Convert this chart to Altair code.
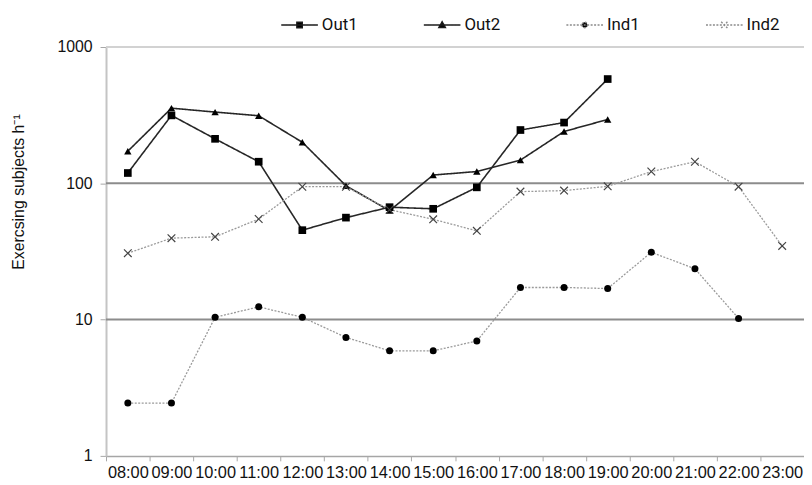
import altair as alt
import pandas as pd

times = ["08:00", "09:00", "10:00", "11:00", "12:00", "13:00", "14:00", "15:00",
         "16:00", "17:00", "18:00", "19:00", "20:00", "21:00", "22:00", "23:00"]
out1 = [119, 315, 212, 144, 45.3, 56, 66.8, 65, 93.4, 246, 279, 582]
out2 = [172, 356, 333, 313, 200, 96, 63, 115, 122, 148, 240, 294]
ind1 = [2.44, 2.44, 10.4, 12.4, 10.4, 7.4, 5.9, 5.9, 6.96, 17.2, 17.2, 16.9, 31.2, 23.6, 10.2]
ind2 = [30.7, 39.6, 40.5, 54.7, 94.4, 94.4, 64, 54.4, 44.8, 86.9, 88.4, 95, 122, 144, 94.5, 34.7]
series_names = ["Out1", "Out2", "Ind1", "Ind2"]
series_values = [out1, out2, ind1, ind2]
y_ticks = [1, 10, 100, 1000]
grid_dark = [10, 100]
grid_light = [1000]

rows = []
for name, vals in zip(series_names, series_values):
    for t, v in zip(times, vals):
        rows.append({"time": t, "series": name, "value": v})
df = pd.DataFrame(rows)

FONT = "Liberation Sans"
XPATH = "M-1,-1L1,1M-1,1L1,-1"

styles = {
    "Out1": dict(color="#262626", dash=[1, 0], shape="square", size=60, filled=True, mcolor="#000", sw=1.6),
    "Out2": dict(color="#262626", dash=[1, 0], shape="triangle-up", size=55, filled=True, mcolor="#000", sw=1.6),
    "Ind1": dict(color="#9a9a9a", dash=[2, 1.5], shape="circle", size=50, filled=True, mcolor="#000", sw=1.3),
    "Ind2": dict(color="#9a9a9a", dash=[2, 1.5], shape=XPATH, size=60, filled=False, mcolor="#444", sw=1.3),
}

x_enc = alt.X(
    "time:N",
    sort=times,
    scale=alt.Scale(type="band", domain=times, paddingInner=0, paddingOuter=0),
    axis=alt.Axis(
        title=None, labelAngle=0, tickBand="extent", labelOverlap=False,
        labelFont=FONT, labelFontSize=16.5, labelColor="#111", labelPadding=4,
        tickSize=5, tickColor="#a6a6a6", domainColor="#a6a6a6", domainWidth=1.5,
        grid=False,
    ),
)
y_scale = alt.Scale(type="log", domain=[1, 1000], nice=False)
y_enc = alt.Y(
    "value:Q",
    scale=y_scale,
    axis=alt.Axis(
        values=y_ticks, format="d", grid=False,
        title="Exercsing subjects h\u207b\u00b9", titleFont=FONT, titleFontSize=16,
        titleFontWeight="normal", titleColor="#111", titleAngle=270,
        titleX=-88, titleY=146, titleAlign="center", titleBaseline="middle",
        labelFont=FONT, labelFontSize=16, labelColor="#111", labelPadding=8,
        tickSize=6, tickColor="#a6a6a6", domainColor="#c4c4c4", domainWidth=2,
    ),
)

base = alt.Chart(df)

grid_dark_layer = alt.Chart(pd.DataFrame({"v": grid_dark})).mark_rule(
    color="#8c8c8c", strokeWidth=2
).encode(y=alt.Y("v:Q", scale=y_scale))
grid_light_layer = alt.Chart(pd.DataFrame({"v": grid_light})).mark_rule(
    color="#d2d2d2", strokeWidth=2
).encode(y=alt.Y("v:Q", scale=y_scale))

layers = [grid_light_layer, grid_dark_layer]
for name in series_names:
    st = styles[name]
    sub = base.transform_filter(alt.datum.series == name)
    layers.append(
        sub.mark_line(color=st["color"], strokeDash=st["dash"], strokeWidth=st["sw"]).encode(x=x_enc, y=y_enc)
    )
for name in series_names:
    st = styles[name]
    sub = base.transform_filter(alt.datum.series == name)
    if st["filled"]:
        pm = sub.mark_point(shape=st["shape"], filled=True, color=st["mcolor"], size=st["size"], opacity=1)
    else:
        pm = sub.mark_point(shape=st["shape"], filled=False, color=st["mcolor"], size=st["size"],
                            strokeWidth=1.2, opacity=1)
    layers.append(pm.encode(x=x_enc, y=y_enc))

# legend-only layer
LINE = "M-1,0L1,0"
legend_paths = [
    LINE + "M-0.15,-0.15L0.15,-0.15L0.15,0.15L-0.15,0.15Z",
    LINE + "M-0.18,0.14L0,-0.18L0.18,0.14Z",
    LINE + "M-0.15,0A0.15,0.15 0 1,0 0.15,0A0.15,0.15 0 1,0 -0.15,0Z",
    LINE + "M-0.17,-0.17L0.17,0.17M-0.17,0.17L0.17,-0.17",
]
legend_strokes = ["#1a1a1a", "#1a1a1a", "#8a8a8a", "#8a8a8a"]
legend_dashes = [[1, 0], [1, 0], [2, 1.5], [2, 1.5]]
leg = alt.Legend(
    title=None, orient="none", legendX=176, legendY=-42, direction="horizontal",
    columns=4, columnPadding=63, labelOffset=3, padding=0,
    labelFont="Roboto", labelFontSize=17, labelColor="#111",
    symbolSize=1369, symbolStrokeWidth=1.4, symbolOpacity=1, symbolFillColor="#000",
)
legend_layer = alt.Chart(pd.DataFrame({"series": series_names})).mark_point(
    opacity=0, filled=False
).encode(
    shape=alt.Shape("series:N", sort=series_names,
                    scale=alt.Scale(domain=series_names, range=legend_paths), legend=leg),
    stroke=alt.Stroke("series:N", sort=series_names,
                      scale=alt.Scale(domain=series_names, range=legend_strokes), legend=leg),
    strokeDash=alt.StrokeDash("series:N", sort=series_names,
                              scale=alt.Scale(domain=series_names, range=legend_dashes), legend=leg),
    fill=alt.value("#000"),
)
layers.append(legend_layer)

chart = alt.layer(*layers).properties(
    width=705, height=413,
    padding={"left": 99, "top": 37, "right": 0, "bottom": 27},
    autosize=alt.AutoSizeParams(type="none"),
    background="white",
).configure_view(stroke=None)

chart.save("out.html", embed_options={"renderer": "svg", "actions": False})
